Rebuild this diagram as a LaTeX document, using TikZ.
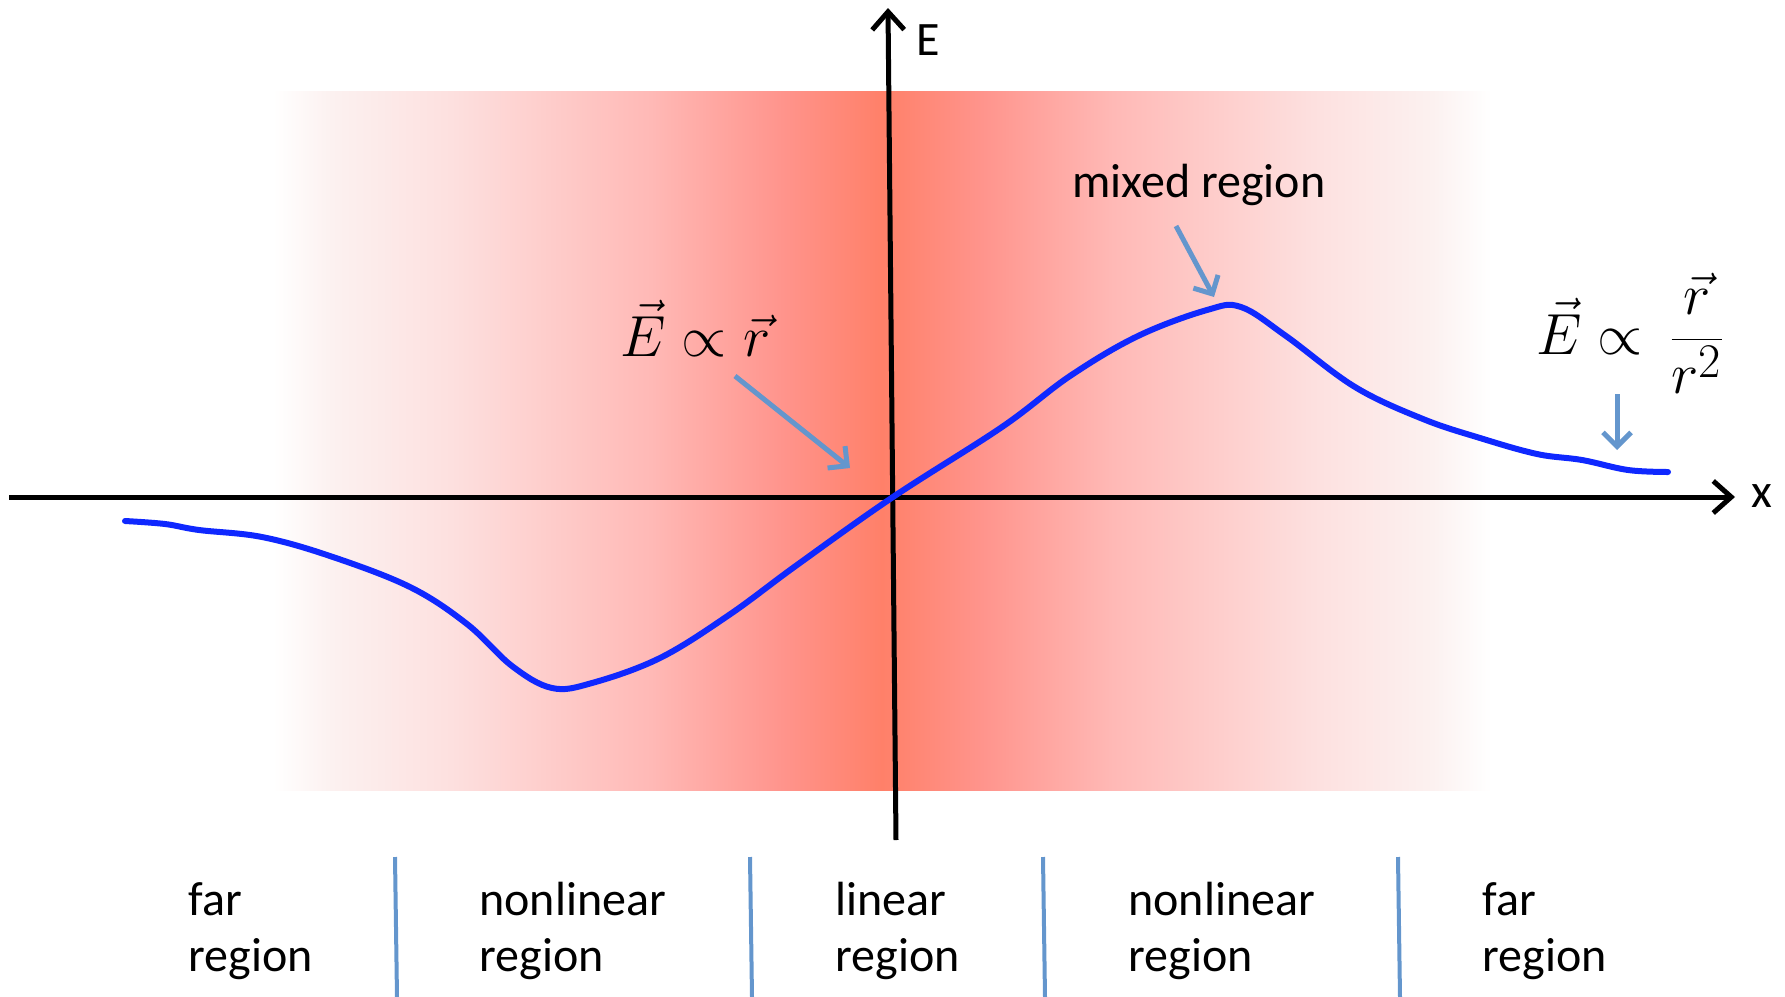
\documentclass[tikz,border=0pt]{standalone}
\usepackage[no-math]{fontspec}
\setmainfont{Carlito}
\usetikzlibrary{arrows.meta}
\definecolor{coral}{RGB}{255,128,105}
\definecolor{bandA}{RGB}{252,241,240}
\definecolor{bandB}{RGB}{253,224,223}
\definecolor{bandC}{RGB}{255,185,182}
\definecolor{bandD}{RGB}{255,148,140}
\definecolor{steel}{RGB}{100,150,205}
\definecolor{fieldblue}{RGB}{15,40,255}
\pgfdeclarehorizontalshading{band}{100bp}{color(0bp)=(white); color(25bp)=(white); color(27.4bp)=(bandA); color(32.3bp)=(bandB); color(40.5bp)=(bandC); color(45.9bp)=(bandD); color(50bp)=(coral); color(54.1bp)=(bandD); color(59.5bp)=(bandC); color(67.7bp)=(bandB); color(72.6bp)=(bandA); color(75bp)=(white); color(100bp)=(white)}
\tikzset{axisline/.style={line width=2.5pt,-{Straight Barb[length=9pt,width=16pt]}},pointer/.style={draw=steel,line width=2.5pt,-{Straight Barb[length=7pt,width=14pt]}},divider/.style={draw=steel,line width=2pt},field/.style={draw=fieldblue,line width=3pt,line cap=round},tag/.style={inner sep=0pt,font=\fontsize{24}{28}\selectfont},law/.style={inner sep=0pt,font=\fontsize{24.88}{30}\selectfont,scale=1.165,transform shape}}

\begin{document}
\begin{tikzpicture}[x=0.5pt,y=-0.5pt]
\useasboundingbox (0,0) rectangle (1785,997);
\fill[shading=band] (273,91) rectangle (1491,790);
% axes
\coordinate (o) at (893,497);
\draw[axisline] (896,840) -- (888,8);
\draw[axisline] (9,497) -- (1735,497);
\node[tag,anchor=base west] (elab) at (916,55) {E};
\node[tag,anchor=base west] (xlab) at (1751,507) {x};
% field curve
\draw[field] plot[smooth,tension=0.6] coordinates {(125,521) (165,524) (199,530) (262,537) (330,556) (410,587) (467,624) (512,666) (552,688) (592,683) (660,658) (729,615) (797,565) (893,497) (1002,427) (1070,376) (1138,336) (1207,310) (1241,307) (1286,336) (1355,387) (1423,419) (1480,438) (1537,454) (1582,460) (1628,470) (1668,472)};
% labels and pointers
\node[law,anchor=base west] (lin) at (620,356) {$\vec{E}\propto\vec{r}$};
\node[tag,anchor=base] (mixed) at (1199,197) {mixed region};
\node[law,anchor=base west] (far) at (1536,354) {$\vec{E}\propto\,{\displaystyle\frac{\vec{r}}{r^2}}$};
\coordinate (linfrom) at (735,376);
\coordinate (linto) at (850,468);
\coordinate (mixfrom) at (1176,226);
\coordinate (mixto) at (1214,297);
\coordinate (farfrom) at (1617,394);
\coordinate (farto) at (1617,450);
\draw[pointer] (linfrom) -- (linto);
\draw[pointer] (mixfrom) -- (mixto);
\draw[pointer] (farfrom) -- (farto);
% regions
\foreach \x in {395,750,1043,1398}\draw[divider] (\x,857) -- (\x+2,997);
\node[tag,align=left,anchor=north west] (r1) at (188,882) {far\\region};
\node[tag,align=left,anchor=north west] (r2) at (479,882) {nonlinear\\region};
\node[tag,align=left,anchor=north west] (r3) at (835,882) {linear\\region};
\node[tag,align=left,anchor=north west] (r4) at (1128,882) {nonlinear\\region};
\node[tag,align=left,anchor=north west] (r5) at (1482,882) {far\\region};
\end{tikzpicture}
\end{document}
